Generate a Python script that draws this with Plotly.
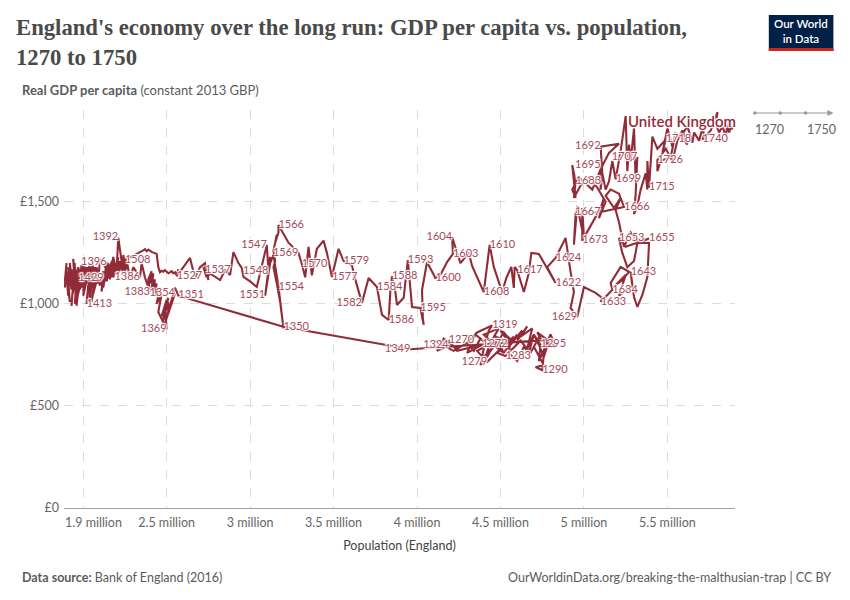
import plotly.graph_objects as go

# ---------------- DATA ----------------
years = list(range(1270, 1751))

population_millions = [
    4.19, 4.24, 4.39, 4.30, 4.35, 4.45, 4.40, 4.50, 4.36, 4.42,   # 1270s
    4.50, 4.58, 4.48, 4.53, 4.62, 4.68, 4.74, 4.70, 4.76, 4.71,   # 1280s
    4.75, 4.77, 4.72, 4.77, 4.73, 4.74, 4.70, 4.66, 4.69, 4.62,   # 1290s
    4.66, 4.60, 4.63, 4.56, 4.60, 4.52, 4.57, 4.50, 4.55, 4.47,   # 1300s
    4.52, 4.44, 4.49, 4.40, 4.46, 4.42, 4.38, 4.40, 4.43, 4.45,   # 1310s
    4.36, 4.30, 4.22, 4.10, 4.19, 4.12, 4.16, 4.24, 4.30, 4.34,   # 1320s
    4.38, 4.43, 4.41, 4.47, 4.52, 4.56, 4.55, 4.60, 4.64, 4.67,   # 1330s
    4.70, 4.73, 4.76, 4.79, 4.76, 4.80, 4.83, 4.78, 4.81, 3.96,   # 1340s
    3.20, 2.57, 2.55, 2.51, 2.55, 2.50, 2.53, 2.49, 2.52, 2.48,   # 1350s
    2.51, 2.47, 2.50, 2.48, 2.51, 2.49, 2.50, 2.47, 2.49, 2.50,   # 1360s
    2.45, 2.47, 2.44, 2.46, 2.43, 2.44, 2.42, 2.43, 2.41, 2.42,   # 1370s
    2.40, 2.41, 2.39, 2.40, 2.37, 2.35, 2.34, 2.30, 2.28, 2.26,   # 1380s
    2.25, 2.23, 2.21, 2.20, 2.18, 2.16, 2.14, 2.12, 2.14, 2.10,   # 1390s
    2.09, 2.07, 2.06, 2.08, 2.05, 2.07, 2.04, 2.06, 2.03, 2.05,   # 1400s
    2.04, 2.06, 2.03, 2.02, 2.04, 2.03, 2.05, 2.02, 2.04, 2.01,   # 1410s
    2.03, 2.00, 2.02, 1.99, 2.01, 1.98, 2.00, 1.97, 1.99, 1.97,   # 1420s
    2.00, 1.97, 1.96, 1.97, 1.95, 1.96, 1.94, 1.95, 1.93, 1.94,   # 1430s
    1.92, 1.93, 1.91, 1.92, 1.90, 1.91, 1.90, 1.89, 1.90, 1.89,   # 1440s
    1.90, 1.91, 1.90, 1.92, 1.91, 1.93, 1.92, 1.94, 1.93, 1.95,   # 1450s
    1.94, 1.96, 1.95, 1.97, 1.96, 1.98, 1.97, 1.99, 1.98, 2.00,   # 1460s
    1.99, 2.01, 2.00, 2.03, 2.02, 2.05, 2.04, 2.07, 2.06, 2.09,   # 1470s
    2.08, 2.10, 2.12, 2.11, 2.13, 2.15, 2.14, 2.16, 2.17, 2.15,   # 1480s
    2.18, 2.17, 2.19, 2.18, 2.20, 2.21, 2.20, 2.22, 2.21, 2.23,   # 1490s
    2.24, 2.22, 2.24, 2.23, 2.25, 2.24, 2.26, 2.25, 2.25, 2.36,   # 1500s
    2.37, 2.38, 2.39, 2.41, 2.43, 2.44, 2.45, 2.46, 2.47, 2.48,   # 1510s
    2.49, 2.51, 2.53, 2.54, 2.55, 2.56, 2.57, 2.56, 2.64, 2.67,   # 1520s
    2.70, 2.73, 2.75, 2.74, 2.76, 2.72, 2.74, 2.73, 2.82, 2.85,   # 1530s
    2.88, 2.90, 2.93, 2.95, 2.96, 3.00, 3.04, 3.10, 3.11, 3.12,   # 1540s
    3.10, 3.09, 3.12, 3.14, 3.17, 3.19, 3.20, 3.18, 3.16, 3.14,   # 1550s
    3.15, 3.14, 3.15, 3.16, 3.15, 3.17, 3.17, 3.23, 3.26, 3.29,   # 1560s
    3.31, 3.33, 3.35, 3.37, 3.40, 3.44, 3.46, 3.49, 3.53, 3.56,   # 1570s
    3.61, 3.63, 3.67, 3.71, 3.76, 3.79, 3.83, 3.84, 3.85, 3.87,   # 1580s
    3.88, 3.92, 3.93, 3.945, 3.97, 4.02, 4.04, 4.035, 4.03, 4.06,  # 1590s
    4.11, 4.14, 4.18, 4.215, 4.21, 4.26, 4.31, 4.33, 4.40, 4.42,   # 1600s
    4.435, 4.46, 4.51, 4.535, 4.565, 4.58, 4.585, 4.60, 4.64, 4.67,  # 1610s
    4.685, 4.73, 4.83, 4.78, 4.83, 4.89, 4.92, 4.94, 4.92, 4.96,  # 1620s
    5.00, 5.07, 5.11, 5.10, 5.17, 5.16, 5.22, 5.27, 5.23, 5.19,   # 1630s
    5.25, 5.21, 5.29, 5.28, 5.30, 5.32, 5.35, 5.38, 5.39, 5.32,   # 1640s
    5.30, 5.26, 5.23, 5.21, 5.25, 5.39, 5.33, 5.28, 5.24, 5.21,   # 1650s
    5.19, 5.22, 5.18, 5.13, 5.16, 5.21, 5.24, 5.10, 4.95, 4.94,   # 1660s
    4.96, 5.00, 4.99, 4.99, 5.05, 5.10, 5.12, 5.09, 5.13, 5.08,   # 1670s
    5.03, 4.98, 4.94, 4.95, 4.93, 4.95, 4.93, 4.97, 5.05, 5.10,   # 1680s
    5.15, 5.21, 5.10, 5.11, 5.10, 5.10, 5.13, 5.15, 5.17, 5.19,   # 1690s
    5.22, 5.25, 5.26, 5.27, 5.28, 5.30, 5.31, 5.32, 5.31, 5.30,   # 1700s
    5.32, 5.34, 5.37, 5.38, 5.38, 5.39, 5.41, 5.44, 5.49, 5.47,   # 1710s
    5.50, 5.53, 5.55, 5.52, 5.46, 5.44, 5.44, 5.49, 5.53, 5.56,   # 1720s
    5.59, 5.62, 5.58, 5.62, 5.65, 5.66, 5.69, 5.71, 5.73, 5.72,   # 1730s
    5.71, 5.76, 5.80, 5.79, 5.81, 5.83, 5.85, 5.86, 5.87, 5.88,   # 1740s
    5.89,                                                         # 1750
]

gdp_per_capita = [
    823, 770, 800, 760, 850, 780, 740, 830, 770, 715,     # 1270s
    780, 840, 760, 745, 820, 760, 850, 790, 700, 690,     # 1280s
    675, 830, 860, 790, 720, 800, 850, 780, 880, 840,     # 1290s
    890, 820, 870, 800, 850, 760, 820, 870, 810, 840,     # 1300s
    760, 810, 880, 850, 800, 740, 700, 780, 870, 895,     # 1310s
    860, 810, 770, 820, 798, 770, 830, 780, 810, 770,     # 1320s
    830, 790, 740, 800, 860, 820, 760, 720, 790, 760,     # 1330s
    850, 800, 740, 820, 780, 850, 790, 810, 825, 778,     # 1340s
    888, 1040, 1080, 960, 1050, 930, 1020, 900, 1000, 950,   # 1350s
    1030, 880, 990, 930, 1010, 960, 1020, 940, 990, 875,     # 1360s
    960, 1050, 1000, 1080, 1040, 1100, 1060, 1120, 1070, 1150,  # 1370s
    1100, 1160, 1120, 1057, 1130, 1200, 1130, 1180, 1120, 1220,  # 1380s
    1150, 1210, 1325, 1160, 1230, 1120, 1205, 1080, 1170, 1220,  # 1390s
    1100, 1180, 1050, 1150, 1010, 1120, 1060, 1190, 1080, 1160,  # 1400s
    1030, 1140, 1090, 1000, 1120, 1060, 1170, 1100, 1200, 1080,  # 1410s
    1150, 1040, 1180, 1110, 1200, 1070, 1160, 1050, 1170, 1125,  # 1420s
    1090, 1180, 1030, 1140, 1000, 1120, 1060, 1200, 990, 1100,   # 1430s
    1150, 1070, 1180, 1100, 1160, 1040, 1150, 1080, 1200, 1110,  # 1440s
    1160, 1060, 1140, 1010, 1120, 1080, 1200, 1050, 1170, 1100,  # 1450s
    1220, 1080, 1180, 1120, 990, 1130, 1060, 1190, 1110, 1200,   # 1460s
    1080, 1150, 1060, 1180, 1120, 1210, 1100, 1170, 1050, 1140,  # 1470s
    1180, 1090, 1160, 1060, 1150, 1200, 1110, 1190, 1130, 1170,  # 1480s
    1220, 1140, 1200, 1130, 1180, 1230, 1160, 1210, 1150, 1190,  # 1490s
    1170, 1210, 1150, 1230, 1180, 1240, 1170, 1220, 1215, 1262,  # 1500s
    1268, 1258, 1266, 1255, 1250, 1245, 1180, 1155, 1162, 1158,  # 1510s
    1165, 1150, 1160, 1150, 1155, 1140, 1170, 1135, 1225, 1127,  # 1520s
    1180, 1200, 1117, 1180, 1140, 1180, 1130, 1165, 1117, 1166,  # 1530s
    1142, 1254, 1200, 1176, 1132, 1110, 1083, 1289, 1160, 1230,  # 1540s
    1120, 1040, 1200, 1240, 1083, 950, 880, 1010, 1100, 1180,    # 1550s
    1210, 1260, 1300, 1340, 1300, 1350, 1387, 1300, 1275, 1250,  # 1560s
    1195, 1130, 1280, 1140, 1270, 1310, 1250, 1132, 1270, 1210,  # 1570s
    1190, 1120, 1005, 1127, 1083, 946, 921, 1060, 1135, 1060,    # 1580s
    995, 1030, 1105, 1215, 985, 980, 897, 930, 1068, 1205,       # 1590s
    1127, 1142, 1205, 1245, 1328, 1200, 1250, 1186, 1058, 1205,  # 1600s
    1289, 1181, 1058, 1127, 1181, 1078, 1181, 1166, 1058, 1152,  # 1610s
    1250, 1245, 1102, 1180, 1225, 1323, 1157, 1058, 980, 936,    # 1620s
    1083, 1054, 1029, 1010, 1068, 1103, 1181, 1157, 1117, 1093,  # 1630s
    1142, 1040, 1090, 1157, 1034, 985, 1044, 1132, 1298, 1298,   # 1640s
    1210, 1180, 1250, 1323, 1280, 1320, 1300, 1350, 1280, 1400,  # 1650s
    1460, 1520, 1470, 1530, 1560, 1540, 1475, 1450, 1440, 1290,  # 1660s
    1480, 1320, 1470, 1310, 1400, 1470, 1520, 1420, 1500, 1570,  # 1670s
    1620, 1580, 1520, 1600, 1680, 1520, 1560, 1620, 1560, 1660,  # 1680s
    1740, 1785, 1770, 1640, 1560, 1680, 1560, 1600, 1700, 1610,  # 1690s
    1750, 1920, 1650, 1780, 1700, 1860, 1600, 1720, 1540, 1440,  # 1700s
    1480, 1560, 1640, 1560, 1700, 1570, 1820, 1760, 1805, 1740,  # 1710s
    1860, 1770, 1840, 1720, 1700, 1650, 1705, 1760, 1700, 1800,  # 1720s
    1850, 1780, 1820, 1870, 1790, 1840, 1800, 1860, 1800, 1830,  # 1730s
    1805, 1850, 1940, 1880, 1840, 1870, 1820, 1880, 1840, 1870,  # 1740s
    1855,                                                        # 1750
]

# year labels drawn to the right / left of their point
labels_right = [1270, 1272, 1283, 1290, 1295, 1319, 1350, 1351, 1413, 1429,
                1508, 1527, 1537, 1554, 1566, 1570, 1577, 1579, 1584, 1586,
                1588, 1593, 1595, 1600, 1603, 1608, 1610, 1617, 1622, 1624,
                1633, 1634, 1643, 1653, 1655, 1666, 1673, 1683, 1699, 1715,
                1718, 1726, 1740]
labels_left = [1279, 1324, 1349, 1354, 1369, 1383, 1386, 1392, 1396, 1547,
               1548, 1551, 1569, 1582, 1604, 1629, 1667, 1692, 1695, 1707]

x_tick_values = [2.0, 2.5, 3.0, 3.5, 4.0, 4.5, 5.0, 5.5]
x_tick_labels = ["1.9 million", "2.5 million", "3 million", "3.5 million",
                 "4 million", "4.5 million", "5 million", "5.5 million"]
y_tick_values = [0, 500, 1000, 1500]
y_tick_labels = ["£0", "£500", "£1,000", "£1,500"]

assert len(years) == len(population_millions) == len(gdp_per_capita)

# ---------------- STYLE ----------------
OFF = 8                       # page margin of the html body
W, H = 850 - OFF, 600 - OFF   # figure size so the page fits the window
PL, PR, PT, PB = 60, 735, 110, 508   # plot area in window pixels
ML, MR, MT, MB = PL - OFF, W - (PR - OFF), PT - OFF, H - (PB - OFF)

LINE_COLOR = "#922b38"
LABEL_COLOR = "#a5495a"
GRID = "#dcdcdc"
TXT = "#5b5b5b"
FONT = "Lato"
HALO = ("1px 1px 1px #fff, -1px -1px 1px #fff, 1px -1px 1px #fff, "
        "-1px 1px 1px #fff, 0 1px 1px #fff, 0 -1px 1px #fff")


def px(xp):
    return (xp - PL) / (PR - PL)


def py(yp):
    return (PB - yp) / (PB - PT)


idx = {yr: i for i, yr in enumerate(years)}

fig = go.Figure()
fig.add_trace(go.Scatter(
    x=population_millions, y=gdp_per_capita, mode="lines",
    line=dict(color=LINE_COLOR, width=2.1), hoverinfo="skip",
    cliponaxis=False))

for lst, pos in ((labels_right, "middle right"), (labels_left, "middle left")):
    fig.add_trace(go.Scatter(
        x=[population_millions[idx[y]] for y in lst],
        y=[gdp_per_capita[idx[y]] for y in lst],
        mode="text", text=[str(y) for y in lst], textposition=pos,
        textfont=dict(family=FONT, size=11, color=LABEL_COLOR, shadow=HALO),
        hoverinfo="skip", cliponaxis=False))

annotations = [
    dict(x=px(16), y=py(90), xref="paper", yref="paper", xanchor="left",
         yanchor="middle", showarrow=False,
         text="<b>Real GDP per capita</b> (constant 2013 GBP)",
         font=dict(family=FONT, size=13, color=TXT)),
    dict(x=px(738), y=py(121), xref="paper", yref="paper", xanchor="right",
         yanchor="middle", showarrow=False, text="United Kingdom",
         font=dict(family=FONT, size=15, color=LINE_COLOR, weight=600,
                   shadow=HALO)),
    # first x tick label is nudged right so it does not overflow the axis
    dict(x=px(59), y=py(522), xref="paper", yref="paper", xanchor="left",
         yanchor="middle", showarrow=False, text=x_tick_labels[0],
         font=dict(family=FONT, size=12.5, color="#666")),
    dict(x=px(16), y=py(577), xref="paper", yref="paper", xanchor="left",
         yanchor="middle", showarrow=False,
         text="<b>Data source:</b> Bank of England (2016)",
         font=dict(family=FONT, size=12.5, color=TXT)),
    dict(x=px(834), y=py(577), xref="paper", yref="paper", xanchor="right",
         yanchor="middle", showarrow=False,
         text="OurWorldinData.org/breaking-the-malthusian-trap | CC BY",
         font=dict(family=FONT, size=12.5, color=TXT)),
    dict(x=px(801.5), y=py(31.5), xref="paper", yref="paper", xanchor="center",
         yanchor="middle", showarrow=False, text="Our World<br>in Data",
         font=dict(family=FONT, size=11.5, color="white", weight=600)),
    dict(x=px(753), y=py(129), xref="paper", yref="paper", xanchor="left",
         yanchor="middle", showarrow=False, text=str(years[0]),
         font=dict(family=FONT, size=12.5, color="#666")),
    dict(x=px(805), y=py(129), xref="paper", yref="paper", xanchor="left",
         yanchor="middle", showarrow=False, text=str(years[-1]),
         font=dict(family=FONT, size=12.5, color="#666")),
]

shapes = [
    dict(type="rect", xref="paper", yref="paper", x0=px(769), x1=px(834),
         y0=py(15), y1=py(51), fillcolor="#002147", line=dict(width=0)),
    dict(type="rect", xref="paper", yref="paper", x0=px(769), x1=px(834),
         y0=py(48), y1=py(51), fillcolor="#ce261e", line=dict(width=0)),
    dict(type="line", xref="paper", yref="paper", x0=px(755), x1=px(829),
         y0=py(113), y1=py(113), line=dict(color="#999", width=1)),
    dict(type="path", xref="paper", yref="paper",
         path=f"M {px(828)} {py(110)} L {px(834)} {py(113)} L {px(828)} {py(116)} Z",
         fillcolor="#999", line=dict(width=0)),
]
for cx in (755, 780.5, 806):
    shapes.append(dict(type="circle", xref="paper", yref="paper",
                       x0=px(cx - 1.8), x1=px(cx + 1.8),
                       y0=py(111.2), y1=py(114.8),
                       fillcolor="#999", line=dict(width=0)))

fig.update_layout(
    width=W, height=H,
    margin=dict(l=ML, r=MR, t=MT, b=MB),
    paper_bgcolor="white", plot_bgcolor="white",
    showlegend=False,
    font=dict(family=FONT, color=TXT),
    title=dict(
        text="England's economy over the long run: GDP per capita vs. population,<br>1270 to 1750",
        x=(16 - OFF) / W, xref="container", xanchor="left",
        y=1 - (35 - OFF) / H, yref="container", yanchor="top",
        font=dict(family="Liberation Serif", size=22.7, color="#4a4a4a",
                  weight="bold")),
    xaxis=dict(
        range=[1.885, 5.905], tickvals=x_tick_values,
        ticktext=[""] + x_tick_labels[1:],
        showgrid=True, gridcolor=GRID, griddash="dash", gridwidth=1,
        zeroline=False, showline=True, linecolor="#a0a0a0", linewidth=1,
        ticks="", ticklabelstandoff=3,
        tickfont=dict(family=FONT, size=12.5, color="#666"),
        title=dict(text="Population (England)", standoff=12,
                   font=dict(family=FONT, size=12.5, color="#444")),
        fixedrange=True),
    yaxis=dict(
        range=[0, 1950], tickvals=y_tick_values, ticktext=y_tick_labels,
        showgrid=True, gridcolor=GRID, griddash="dash", gridwidth=1,
        zeroline=False, ticks="", ticklabelstandoff=4,
        tickfont=dict(family=FONT, size=12.5, color="#666"),
        fixedrange=True),
    annotations=annotations,
    shapes=shapes,
)

fig.write_html("out.html")
